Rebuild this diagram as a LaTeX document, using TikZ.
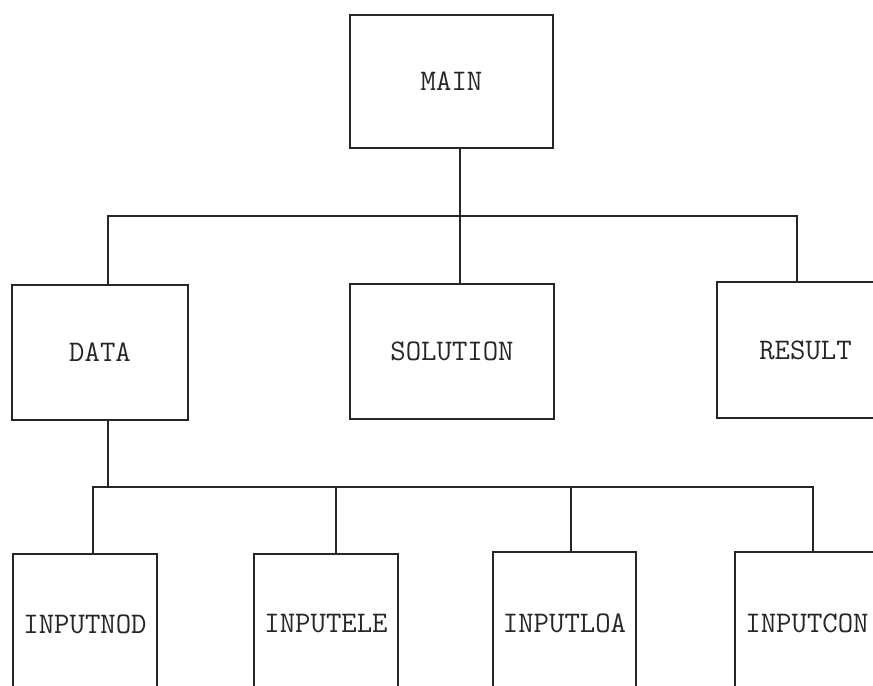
\documentclass[tikz,border=0pt]{standalone}
\begin{document}
\begin{tikzpicture}[x=1bp,y=-1bp,
  box/.style={draw=black!85,line width=1.8bp,rectangle,inner sep=0pt,
    font=\ttfamily\fontsize{30}{36}\selectfont,text=black!85},
  wire/.style={draw=black!85,line width=1.8bp}]
\useasboundingbox (0,0) rectangle (873,686);
\clip (0,0) rectangle (873,686);
% top level
\node[box,minimum width=203bp,minimum height=133bp] (main) at (451.5,81.5) {MAIN};
\node[box,minimum width=176bp,minimum height=135bp] (data) at (100,352.5) {DATA};
\node[box,minimum width=204bp,minimum height=135bp] (solution) at (452,351.5) {SOLUTION};
\node[box,minimum width=177bp,minimum height=136bp] (result) at (805.5,350) {RESULT};
% bottom level
\node[box,minimum width=144bp,minimum height=140bp] (n1) at (85,624) {INPUTNOD};
\node[box,minimum width=144bp,minimum height=140bp] (n2) at (326,624) {INPUTELE};
\node[box,minimum width=143bp,minimum height=142bp] (n3) at (564.5,623) {INPUTLOA};
\node[box,minimum width=144bp,minimum height=142bp] (n4) at (807,623) {INPUTCON};
% junction coordinates
\coordinate (t0) at (460,216);
\coordinate (tL) at (108,216);
\coordinate (tR) at (797,216);
\coordinate (bD) at (108,487);
\coordinate (b1) at (93,487);
\coordinate (b2) at (336,487);
\coordinate (b3) at (571,487);
\coordinate (b4) at (813,487);
% connectors
\draw[wire] (main.south -| t0) -- (t0);
\draw[wire] (data.north -| tL) -- (tL) -- (tR) -- (result.north -| tR);
\draw[wire] (t0) -- (solution.north -| t0);
\draw[wire] (data.south -| bD) -- (bD);
\draw[wire] (n1.north -| b1) -- (b1) -- (b4) -- (n4.north -| b4);
\draw[wire] (b2) -- (n2.north -| b2);
\draw[wire] (b3) -- (n3.north -| b3);
\end{tikzpicture}
\end{document}
